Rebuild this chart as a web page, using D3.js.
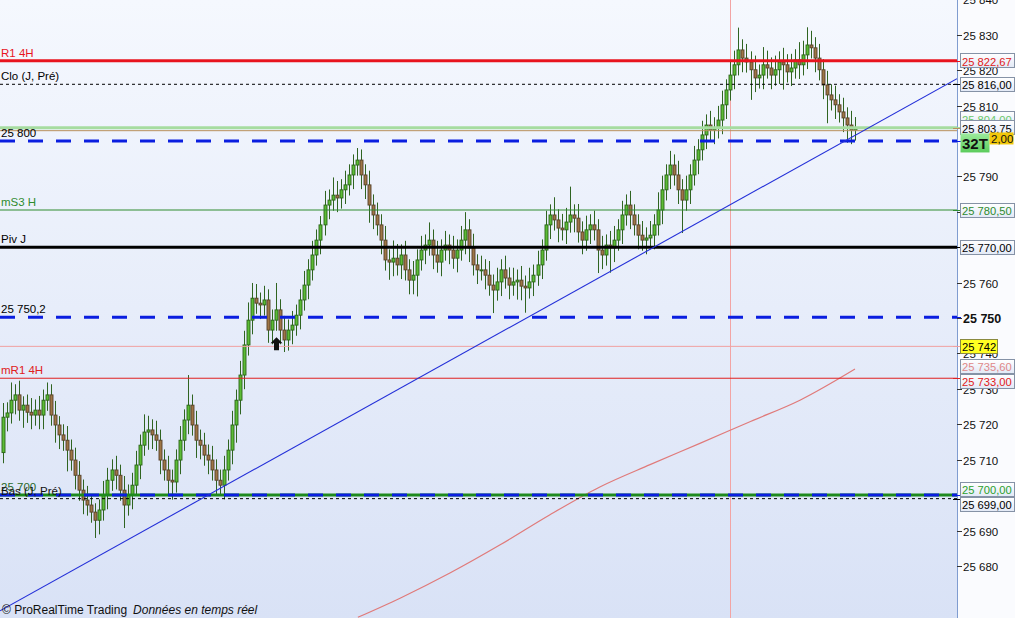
<!DOCTYPE html>
<html><head><meta charset="utf-8">
<script src="https://cdn.jsdelivr.net/npm/d3@7"></script>
<style>
html,body{margin:0;padding:0;background:#fff;overflow:hidden}
text{font-family:"Liberation Sans",Arial,sans-serif}
</style>
</head><body>
<svg id="c" width="1015" height="618"></svg>
<script>
// ---------- DATA ----------
const firstOpen = 25712.0;
const closes = [
25722.0,25723.2,25726.8,25728.3,25724.0,25725.4,25723.4,25722.6,25724.0,25722.6,
25726.8,25728.3,25722.6,25719.8,25717.0,25715.5,25712.7,25709.9,25705.6,25701.4,
25698.6,25697.2,25695.2,25692.9,25695.8,25700.0,25704.2,25707.1,25705.6,25701.4,
25697.2,25700.0,25702.8,25708.5,25714.1,25717.8,25718.4,25717.0,25715.5,25709.9,
25707.1,25704.2,25703.7,25709.9,25715.5,25721.2,25725.4,25719.8,25715.5,25714.1,
25711.3,25709.9,25707.1,25704.2,25702.8,25707.1,25712.7,25719.8,25726.8,25733.9,
25742.4,25749.4,25755.6,25754.2,25753.7,25755.1,25746.6,25749.4,25752.3,25746.6,
25743.8,25746.6,25748.0,25750.8,25755.1,25759.3,25763.6,25767.8,25772.0,25776.3,
25781.9,25783.3,25784.7,25783.9,25786.2,25787.6,25790.4,25793.2,25794.6,25790.4,
25787.6,25781.9,25779.1,25776.3,25772.0,25766.4,25765.8,25766.9,25765.0,25767.8,
25763.6,25760.7,25762.1,25766.4,25769.2,25770.6,25772.0,25767.8,25765.8,25769.2,
25770.6,25769.2,25766.9,25769.2,25772.0,25774.9,25769.8,25765.0,25763.6,25763.6,
25762.1,25759.3,25757.9,25760.2,25763.6,25761.3,25759.3,25760.2,25760.7,25759.0,
25758.5,25760.2,25762.1,25765.0,25769.2,25776.3,25779.1,25777.7,25775.4,25774.9,
25777.1,25779.1,25778.2,25774.3,25772.0,25774.9,25776.3,25774.9,25769.2,25767.8,
25770.6,25769.8,25772.0,25774.9,25779.1,25781.9,25779.1,25776.3,25773.4,25772.0,
25772.6,25773.4,25776.3,25780.5,25786.2,25790.4,25793.2,25790.4,25786.2,25783.3,
25786.2,25790.4,25794.6,25797.5,25801.7,25804.5,25803.1,25803.7,25805.9,25810.2,
25814.4,25818.6,25821.5,25825.7,25823.4,25822.3,25820.1,25817.8,25818.6,25821.5,
25820.6,25818.6,25820.1,25822.3,25821.5,25819.5,25820.6,25822.9,25821.5,25824.3,
25827.1,25826.3,25823.4,25820.1,25815.8,25813.0,25811.6,25810.2,25808.2,25806.5,
25804.5,25803.1,25803.75
];
const upperWick = [
4,3,5,3,4,2.5,3,4,3,4, 3,3.5,3,4,2.5,3,4,3,3.5,4, 3,4,3,2.5,3,4,3.5,3,4,3,
4,3,3.5,4,3,5,4,3,4,3, 3,4,3,3,4,3,8.5,3,4,3, 3.5,3,4,3,3,4,3,4,3,4,
4,5,4.3,4,3,4,3,3,7.6,3, 4,3,4,3,3,4,3,4,3,2.5, 4,3,5,4,3,4,3,3,3.4,3,
3,4,3,3.5,3,4,3,5,4,3, 4,3,4,3,4,3,5,3,4,3, 4,3,4,3,4,5,3,4,3,4,
3,4,3,4,3,4,3,4,3,4, 3,4,3,4,3,4,3,5,3,4, 4,8,3,4,3,4,3,4,3,4,
3,4,4,3,4,3,4,3,3,4, 3,4,3,5,4,3,4,3,4,3, 4,3,4,3,4,3,4,3,4,4,
3,4,4,6.3,3,4,3,4,3,5, 4,3,4,3,4,3,4,3,5,4, 5,4,3,4,3,4,3,4,3,4, 3,4,3
];
const lowerWick = [
3,4,3,4,3,5,3,4,3,4, 4,3,3,5,4,3,6,3,4,3, 4,3,3,5,4,3,4,3,4,3,
6.5,3,4,3,4,3,5,4,3,4, 3,4,5,3,4,3,4,3,5,4, 3,4,3,4,3,4,3,4,5,4,
4,3,4,3,4,3,3.6,4,3,4, 3.4,3,4,3,4,3,4,3,3,4, 3,4,3,4,3,4,3,4,3,4,
4,5,4,3,4,3,5,4,3,4, 3,4,4,6,3,4,3,4,3,4, 3,4,3,4,3,4,4,3,4,3,
4,3,6.5,3,4,3,4,3,5,4, 7,3,4,3,4,3,4,3,4,3, 4,3,4,3,4,3,4,3,6.5,4,
3,7,4,3,4,3,4,3,4,3, 4,3,4,3,4,3,4,3,4,9.3, 3,4,3,4,3,4,3,4,3,4,
4,3,4,3,4,3,8.5,4,3,4, 3,4,3,4,7,3,4,3,4,3, 4,3,4,3,4,8,3,4,3,4, 5,4,3
];
// moving average (red curve) read at candle indexes
const maIdx = [88.3, 98.8, 111.2, 123.6, 136, 148.5, 161, 173.4, 186, 198.3, 212];
const maVal = [25665.5,25670.9,25678.0,25685.9,25694.4,25702.3,25708.6,25714.6,25720.8,25726.8,25735.6];
// trend line anchor points
const trendIdx = [51.5, 209.5];
const trendVal = [25700.3, 25800.0];
// horizontal levels
const levelValues = [25822.67, 25816.00, 25804.00, 25803.75, 25800.00, 25780.50, 25770.00, 25750.20, 25742.00, 25733.00, 25700.00, 25700.00, 25699.00];
const levelNames  = ["R1 4H", "Clo (J, Pré)", "", "", "25 800", "mS3 H", "Piv J", "25 750,2", "", "mR1 4H", "25 700", "", "Bas (J, Pré)"];
// right side value boxes
const boxValues = [25822.67, 25816.00, 25804.00, 25803.75, 25780.50, 25770.00, 25742, 25735.60, 25733.00, 25700.00, 25699.00];
const boxTexts  = ["25 822,67","25 816,00","25 804,00","25 803,75","25 780,50","25 770,00","25 742","25 735,60","25 733,00","25 700,00","25 699,00"];
const yTicks = [25680,25690,25700,25710,25720,25730,25740,25750,25760,25770,25780,25790,25800,25810,25820,25830,25840];
const sessionIdx = 181;
const arrowIdx = 68, arrowVal = 25744.6;
const lastPrice = 25803.75;
const timerText = "32T", spreadText = "2,00";
const footerA = "© ProRealTime Trading", footerB = "Données en temps réel";

// ---------- STYLES ----------
const levelStyles = [
 {c:"#e8141e", w:3},
 {c:"#000", w:1, d:"3,3"},
 {c:"#a6dca0", w:3, off:1},
 {c:"#b8905c", w:1, off:3},
 {c:"#0a1ee0", w:3, d:"15,13"},
 {c:"#2e8b2e", w:1},
 {c:"#000", w:3},
 {c:"#0a1ee0", w:3, d:"15,13"},
 {c:"#f0a0a0", w:1},
 {c:"#e02020", w:1},
 {c:"#1e8a1e", w:3},
 {c:"#0a1ee0", w:3, d:"15,13"},
 {c:"#000", w:1, d:"3,3"}
];
const labelColors = ["#e8141e","#000","","","#000","#2e8b2e","#000","#000","","#e02020","#2a6a2a","","#111"];
const boxColors = ["#e02020","#000","#6cc86c","#000","#2e8b2e","#000","#000","#e08888","#e02020","#2ca02c","#000"];

// ---------- CHART ----------
const W = 1015, H = 618, PW = 957;
const svg = d3.select("#c");
const defs = svg.append("defs");
const bg = defs.append("linearGradient").attr("id","bg").attr("x1",0).attr("y1",0).attr("x2",0).attr("y2",1);
bg.append("stop").attr("offset","0%").attr("stop-color","#f5f8fe");
bg.append("stop").attr("offset","100%").attr("stop-color","#d9e2f6");
const bx = defs.append("linearGradient").attr("id","bx").attr("x1",0).attr("y1",0).attr("x2",0).attr("y2",1);
bx.append("stop").attr("offset","0%").attr("stop-color","#ffffff");
bx.append("stop").attr("offset","100%").attr("stop-color","#e2e9f6");
const gg = defs.append("linearGradient").attr("id","gg").attr("x1",0).attr("y1",0).attr("x2",0).attr("y2",1);
gg.append("stop").attr("offset","0%").attr("stop-color","#9cea9c");
gg.append("stop").attr("offset","100%").attr("stop-color","#5ccc5c");
defs.append("clipPath").attr("id","pc").append("rect").attr("x",0).attr("y",0).attr("width",PW).attr("height",H);

svg.append("rect").attr("width",PW).attr("height",H).attr("fill","url(#bg)");
svg.append("rect").attr("x",PW).attr("width",W-PW).attr("height",H).attr("fill","#fafbfe");

const y = d3.scaleLinear().domain([25665.3, 25839.8]).range([H, 0]);
const x = d3.scaleLinear().domain([0, closes.length-1]).range([3, 855]);

const plot = svg.append("g").attr("clip-path","url(#pc)");

// session vertical line
plot.append("line").attr("x1",Math.round(x(sessionIdx))+0.5).attr("x2",Math.round(x(sessionIdx))+0.5)
  .attr("y1",0).attr("y2",H).attr("stroke","#f2a4a4").attr("stroke-width",1);

// candles
const candles = closes.map((c,i)=>{
  const o = i===0 ? firstOpen : closes[i-1];
  return {i, o, c, h: Math.max(o,c)+upperWick[i], l: Math.min(o,c)-lowerWick[i]};
});
const cg = plot.append("g");
cg.selectAll("line.w").data(candles).join("line")
  .attr("x1",d=>Math.round(x(d.i))+0.5).attr("x2",d=>Math.round(x(d.i))+0.5)
  .attr("y1",d=>y(d.h)).attr("y2",d=>y(d.l))
  .attr("stroke","#2f6421").attr("stroke-width",1);
cg.selectAll("rect.b").data(candles).join("rect")
  .attr("x",d=>Math.round(x(d.i))-1).attr("width",3)
  .attr("y",d=>y(Math.max(d.o,d.c))).attr("height",d=>Math.max(1,Math.abs(y(d.o)-y(d.c))))
  .attr("fill",d=>d.c>=d.o?"#5cbc36":"#9e7646")
  .attr("stroke",d=>d.c>=d.o?"#2a6418":"#56422a").attr("stroke-width",0.9);

// MA curve
plot.append("path").datum(maIdx.map((v,k)=>[v,maVal[k]]))
  .attr("d", d3.line().x(d=>x(d[0])).y(d=>y(d[1])).curve(d3.curveMonotoneX))
  .attr("fill","none").attr("stroke","#e07a7a").attr("stroke-width",1.2);

// levels
const lg = plot.append("g");
levelValues.forEach((v,k)=>{
  const s = levelStyles[k];
  const yy = y(v) + (s.off||0);
  lg.append("line").attr("x1",0).attr("x2",PW).attr("y1",yy).attr("y2",yy)
    .attr("stroke",s.c).attr("stroke-width",s.w).attr("stroke-dasharray",s.d||null);
  if (levelNames[k]) {
    lg.append("text").attr("x",1).attr("y",yy-4).attr("font-size",11.5)
      .attr("fill",labelColors[k]).text(levelNames[k]);
  }
});

// trend line
const slope = (trendVal[1]-trendVal[0])/(trendIdx[1]-trendIdx[0]);
const i0 = x.invert(0), i1 = x.invert(PW);
plot.append("line").attr("x1",0).attr("x2",PW)
  .attr("y1",y(trendVal[0]+slope*(i0-trendIdx[0])))
  .attr("y2",y(trendVal[0]+slope*(i1-trendIdx[0])))
  .attr("stroke","#2430d8").attr("stroke-width",1.1);

// arrow marker
const ax = Math.round(x(arrowIdx))+0.5, ay = y(arrowVal);
plot.append("path").attr("d",`M${ax},${ay} l6,6 h-3.5 v7 h-5 v-7 h-3.5 z`).attr("fill","#111");

// boxes with simple de-overlap
const bh = 15;
let boxes = boxValues.map((v,k)=>({v,k,y:y(v),pin:v===lastPrice}));
boxes.sort((a,b)=>a.y-b.y);
for (let it=0; it<30; it++){
  for (let j=0;j<boxes.length-1;j++){
    const a=boxes[j], b=boxes[j+1];
    const sep = (a.pin||b.pin)?9:bh;
    const d = b.y-a.y;
    if (d<sep){
      if (a.pin) b.y=a.y+sep; else if (b.pin) a.y=b.y-sep;
      else { const m=(sep-d)/2; a.y-=m; b.y+=m; }
    }
  }
}
const timerY = y(25800);

// right axis
svg.append("line").attr("x1",PW+0.5).attr("x2",PW+0.5).attr("y1",0).attr("y2",H).attr("stroke","#7f9cd0").attr("stroke-width",1);
const fmtInt = v => String(v).replace(/\B(?=(\d{3})+(?!\d))/g," ");
const ag = svg.append("g");
const covers = boxes.map(b=>b.y).concat([timerY+2]);
yTicks.forEach(t=>{
  const yy = Math.round(y(t))+0.5;
  ag.append("line").attr("x1",PW).attr("x2",PW+5).attr("y1",yy).attr("y2",yy).attr("stroke","#333");
  const hidden = covers.some(c=>Math.abs(c-yy)<7);
  if (!hidden) {
    ag.append("text").attr("x",PW+6).attr("y",yy).attr("dy","0.35em")
      .attr("font-size", t===25750?12.5:11.5).attr("font-weight", t===25750?"bold":"normal")
      .attr("fill","#111").text(fmtInt(t));
  }
});
// level ticks on axis
levelValues.forEach((v,k)=>{
  const yy = Math.round(y(v))+0.5;
  ag.append("line").attr("x1",PW-4).attr("x2",PW+4).attr("y1",yy).attr("y2",yy).attr("stroke",levelStyles[k].c).attr("stroke-width",1);
});

boxes.sort((a,b)=> (a.pin?1:0)-(b.pin?1:0));
const bgp = svg.append("g");
boxes.forEach(b=>{
  const t = boxTexts[b.k];
  const isY = b.v===25742;
  const w = isY ? 37 : 54;
  bgp.append("rect").attr("x",PW+3.5).attr("y",Math.round(b.y-bh/2)+0.5).attr("width",w).attr("height",bh-1)
    .attr("fill", isY ? "#ffff22" : "url(#bx)").attr("stroke", isY ? "#8a8a40" : "#8592a6").attr("stroke-width",1);
  bgp.append("text").attr("x",PW+5).attr("y",Math.round(b.y)+0.5).attr("dy","0.36em").attr("font-size",11.2)
    .attr("fill",boxColors[b.k]).text(t);
});
// timer + spread boxes tied to 25 800
bgp.append("rect").attr("x",PW+3.5).attr("y",timerY-7.5).attr("width",29).attr("height",19).attr("fill","url(#gg)");
bgp.append("text").attr("x",PW+5).attr("y",timerY+2.5).attr("dy","0.36em").attr("font-size",15).attr("font-weight","bold").attr("fill","#111").text(timerText);
bgp.append("rect").attr("x",PW+32.5).attr("y",timerY-8.5).attr("width",24).attr("height",12).attr("fill","#f2c80a");
bgp.append("text").attr("x",PW+34).attr("y",timerY-2.5).attr("dy","0.36em").attr("font-size",11.5).attr("fill","#111").text(spreadText);

// footer
const ft = svg.append("text").attr("x",2).attr("y",614).attr("font-size",12).attr("fill","#111");
ft.append("tspan").text(footerA);
ft.append("tspan").attr("dx",6).attr("font-style","italic").text(footerB);
</script>
</body></html>
